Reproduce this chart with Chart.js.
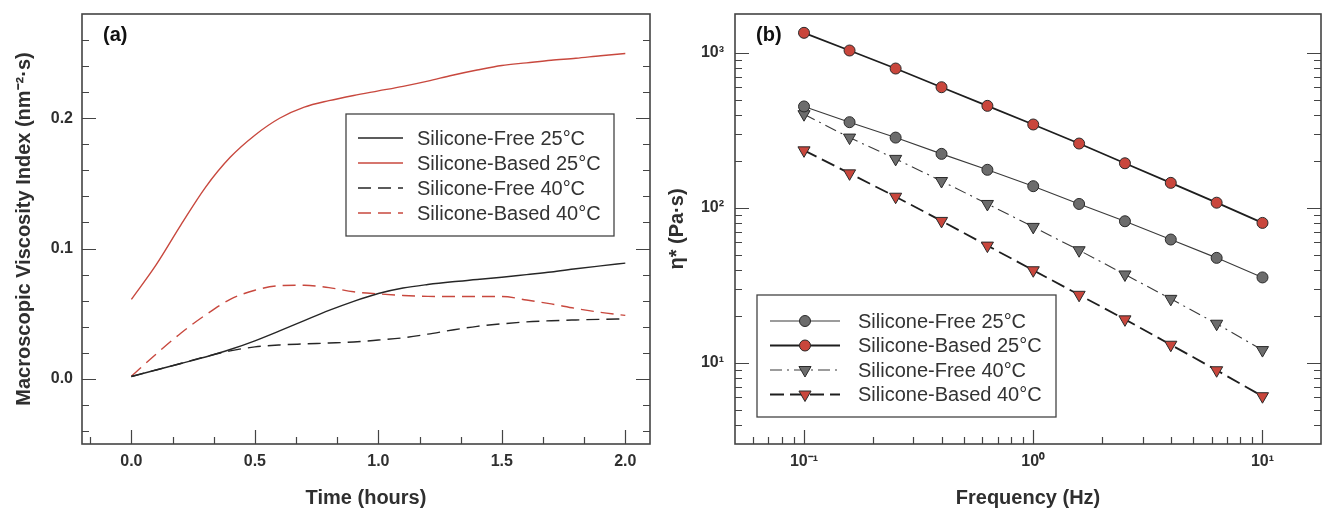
<!DOCTYPE html>
<html>
<head>
<meta charset="utf-8">
<title>Viscosity vs time and frequency</title>
<script src="https://cdn.jsdelivr.net/npm/chart.js@4.4.0/dist/chart.umd.min.js"></script>
<style>
  html, body { margin: 0; padding: 0; background: #fff; overflow: hidden; }
  #wrap { position: relative; width: 1322px; height: 508px; overflow: hidden; }
  #chartA { position: absolute; left: 0; top: 0; }
  #chartB { position: absolute; left: 660px; top: 0; }
</style>
</head>
<body>
<div id="wrap">
  <canvas id="chartA" width="660" height="508"></canvas>
  <!-- a little wider than the page: the right frame of (b) sits on the page edge -->
  <canvas id="chartB" width="669" height="508"></canvas>
</div>
<script>
// ===== (a) viscosity index over time =====
const timeHours = [0, 0.1, 0.2, 0.3, 0.4, 0.5, 0.6, 0.7, 0.8, 0.9, 1.0,
                   1.1, 1.2, 1.3, 1.4, 1.5, 1.6, 1.7, 1.8, 1.9, 2.0];
const sf25Visc = [0.0018, 0.0068, 0.0118, 0.0168, 0.0225, 0.0292, 0.0368, 0.0447, 0.0525, 0.0595, 0.0655,
                  0.0697, 0.0724, 0.0745, 0.0762, 0.078, 0.080, 0.082, 0.0845, 0.0867, 0.0888];
const sb25Visc = [0.061, 0.0875, 0.118, 0.147, 0.170, 0.187, 0.200, 0.2085, 0.2135, 0.2175, 0.221,
                  0.2245, 0.2285, 0.233, 0.237, 0.2405, 0.2425, 0.2445, 0.246, 0.248, 0.2497];
const sf40Visc = [0.0018, 0.0068, 0.0118, 0.0170, 0.0215, 0.0245, 0.026, 0.0268, 0.0275, 0.0283, 0.0298,
                  0.0315, 0.0343, 0.0375, 0.0403, 0.0422, 0.0437, 0.0446, 0.0452, 0.0457, 0.046];
const sb40Visc = [0.002, 0.019, 0.035, 0.049, 0.061, 0.068, 0.0715, 0.0718, 0.070, 0.0668, 0.0652,
                  0.064, 0.0633, 0.0632, 0.0632, 0.0632, 0.0605, 0.0575, 0.054, 0.051, 0.0487];
const timeTicks = [0, 0.5, 1.0, 1.5, 2.0];
const viscTicks = [0, 0.1, 0.2];

// ===== (b) complex viscosity over frequency =====
const freqHz = [0.1, 0.158, 0.251, 0.398, 0.631, 1, 1.585, 2.512, 3.981, 6.31, 10];
const sf25Eta = [451, 357, 284, 223, 176, 138, 106, 82, 62.5, 47.6, 35.6];
const sb25Eta = [1346, 1035, 792, 600, 455, 345, 260, 194, 145, 108, 80];
const sf40Eta = [402, 284, 207, 149, 106, 75.4, 53.3, 37.2, 25.9, 17.9, 12.1];
const sb40Eta = [235, 167, 118, 82.4, 57.1, 39.6, 27.5, 19.1, 13.1, 8.97, 6.1];
const freqTicks = [0.1, 1, 10];
const etaTicks = [10, 100, 1000];

const seriesNames = ['Silicone-Free 25°C', 'Silicone-Based 25°C', 'Silicone-Free 40°C', 'Silicone-Based 40°C'];

Chart.defaults.font.family = '"Liberation Sans", Arial, Helvetica, sans-serif';
Chart.defaults.color = '#2f2f2f';

function pairs(xs, ys) {
  return xs.map((x, i) => ({ x: x, y: ys[i] }));
}

function logMinors(min, max) {
  const out = [];
  for (let d = Math.floor(Math.log10(min)); d <= Math.ceil(Math.log10(max)); d++) {
    for (let m = 2; m <= 9; m++) {
      const v = m * Math.pow(10, d);
      if (v > min && v < max) out.push(v);
    }
  }
  return out;
}

function stepMinors(start, end, step) {
  const out = [];
  for (let v = start; v <= end + 1e-9; v += step) out.push(v);
  return out;
}

const supDigits = { '-': '⁻', '0': '⁰', '1': '¹', '2': '²', '3': '³' };
function powerLabel(v) {
  const e = String(Math.round(Math.log10(v)));
  return '10' + e.split('').map(c => supDigits[c]).join('');
}

// fixed axis sizes, no extra label padding -> plot box where the reference has it
function fixX(h) {
  return s => { s.height = h; s.paddingLeft = 0; s.paddingRight = 0; };
}
function fixY(w) {
  return s => { s.width = w; s.paddingTop = 0; s.paddingBottom = 0; };
}

// frame + inward ticks (bottom, left, right)
const frameTicks = {
  id: 'frameTicks',
  beforeDatasetsDraw(chart, args, o) {
    const { ctx, chartArea: a, scales: { x, y } } = chart;
    ctx.save();
    ctx.strokeStyle = '#444';
    ctx.lineWidth = 1.2;
    ctx.beginPath();
    const xt = (v, len) => {
      const p = Math.round(x.getPixelForValue(v)) + 0.5;
      if (p < a.left + 1 || p > a.right - 1) return;
      ctx.moveTo(p, a.bottom); ctx.lineTo(p, a.bottom - len);
    };
    const yt = (v, len) => {
      const p = Math.round(y.getPixelForValue(v)) + 0.5;
      if (p < a.top + 1 || p > a.bottom - 1) return;
      ctx.moveTo(a.left, p); ctx.lineTo(a.left + len, p);
      ctx.moveTo(a.right, p); ctx.lineTo(a.right - len, p);
    };
    o.xMajor.forEach(v => xt(v, 14));
    o.xMinor.forEach(v => xt(v, 7));
    o.yMajor.forEach(v => yt(v, 14));
    o.yMinor.forEach(v => yt(v, 7));
    ctx.stroke();
    ctx.lineWidth = 1.6;
    ctx.strokeRect(a.left, a.top, a.right - a.left, a.bottom - a.top);
    ctx.restore();
  }
};

// boxed legend placed inside the plot
const boxLegend = {
  id: 'boxLegend',
  afterDatasetsDraw(chart, args, o) {
    const ctx = chart.ctx;
    ctx.save();
    ctx.fillStyle = '#fff';
    ctx.fillRect(o.x, o.y, o.w, o.h);
    ctx.strokeStyle = '#444';
    ctx.lineWidth = 1.3;
    ctx.strokeRect(o.x, o.y, o.w, o.h);
    chart.data.datasets.forEach((ds, i) => {
      const yy = o.y + o.first + i * o.gap;
      ctx.strokeStyle = ds.borderColor;
      ctx.lineWidth = ds.borderWidth;
      ctx.setLineDash(ds.borderDash || []);
      ctx.beginPath();
      ctx.moveTo(o.x + o.lineFrom, yy);
      ctx.lineTo(o.x + o.lineTo, yy);
      ctx.stroke();
      ctx.setLineDash([]);
      if (ds.pointRadius > 0) {
        ctx.fillStyle = ds.pointBackgroundColor;
        ctx.strokeStyle = ds.pointBorderColor;
        ctx.lineWidth = ds.pointBorderWidth;
        Chart.helpers.drawPoint(ctx, {
          pointStyle: ds.pointStyle, rotation: ds.pointRotation || 0,
          radius: ds.pointRadius, borderWidth: ds.pointBorderWidth
        }, o.x + (o.lineFrom + o.lineTo) / 2, yy);
      }
      ctx.fillStyle = '#333';
      ctx.font = '20px "Liberation Sans", Arial, sans-serif';
      ctx.textBaseline = 'middle';
      ctx.textAlign = 'left';
      ctx.fillText(ds.label, o.x + o.textX, yy + 1);
    });
    ctx.restore();
  }
};

const panelTag = {
  id: 'panelTag',
  afterDraw(chart, args, o) {
    const ctx = chart.ctx;
    ctx.save();
    ctx.fillStyle = '#111';
    ctx.font = 'bold 20px "Liberation Sans", Arial, sans-serif';
    ctx.textBaseline = 'middle';
    ctx.fillText(o.text, o.x, o.y);
    ctx.restore();
  }
};

const tickFont = { size: 16, weight: 'bold' };
// tall line box instead of tick padding keeps bottom labels off the frame
const xTickFont = { size: 16, weight: 'bold', lineHeight: 2.25 };
const titleFont = { size: 20, weight: 'bold', lineHeight: 1 };

// ---- chart (a) ----
new Chart(document.getElementById('chartA'), {
  type: 'line',
  data: {
    datasets: [
      { label: seriesNames[0], data: pairs(timeHours, sf25Visc), borderColor: '#262626', borderWidth: 1.4, pointRadius: 0 },
      { label: seriesNames[1], data: pairs(timeHours, sb25Visc), borderColor: '#c8483e', borderWidth: 1.4, pointRadius: 0 },
      { label: seriesNames[2], data: pairs(timeHours, sf40Visc), borderColor: '#262626', borderWidth: 1.4, borderDash: [13, 7], pointRadius: 0 },
      { label: seriesNames[3], data: pairs(timeHours, sb40Visc), borderColor: '#c8483e', borderWidth: 1.4, borderDash: [13, 7], pointRadius: 0 }
    ]
  },
  options: {
    responsive: false,
    animation: false,
    events: [],
    layout: { padding: { top: 14, right: 10, left: 0, bottom: 0 } },
    elements: { line: { cubicInterpolationMode: 'monotone' } },
    plugins: {
      legend: { display: false },
      tooltip: { enabled: false },
      frameTicks: {
        xMajor: timeTicks, xMinor: stepMinors(-1 / 6, 2.1, 1 / 6),
        yMajor: viscTicks, yMinor: stepMinors(-0.04, 0.27, 0.02)
      },
      boxLegend: { x: 346, y: 114, w: 268, h: 122, first: 24, gap: 25, lineFrom: 12, lineTo: 57, textX: 71 },
      panelTag: { text: '(a)', x: 103, y: 35 }
    },
    scales: {
      x: {
        type: 'linear', min: -0.2, max: 2.1,
        afterFit: fixX(64),
        afterBuildTicks: s => { s.ticks = timeTicks.map(v => ({ value: v })); },
        grid: { display: false, drawTicks: false },
        border: { display: false },
        ticks: { font: xTickFont, padding: 0, autoSkip: false, maxRotation: 0, callback: v => v.toFixed(1) },
        title: { display: true, text: 'Time (hours)', font: titleFont, padding: { top: 0, bottom: 0 } }
      },
      y: {
        type: 'linear', min: -0.05, max: 0.28,
        afterFit: fixY(82),
        afterBuildTicks: s => { s.ticks = viscTicks.map(v => ({ value: v })); },
        grid: { display: false, drawTicks: false },
        border: { display: false },
        ticks: { font: tickFont, padding: 9, autoSkip: false, callback: v => v.toFixed(1) },
        title: { display: true, text: 'Macroscopic Viscosity Index (nm⁻²·s)', font: titleFont, padding: { top: 14, bottom: 0 } }
      }
    }
  },
  plugins: [frameTicks, boxLegend, panelTag]
});

// ---- chart (b) ----
const greyDot = '#6c6c6c';
const redDot = '#c9463c';
new Chart(document.getElementById('chartB'), {
  type: 'line',
  data: {
    datasets: [
      { label: seriesNames[0], data: pairs(freqHz, sf25Eta), borderColor: '#3a3a3a', borderWidth: 1.1,
        pointStyle: 'circle', pointRadius: 5.5, pointBackgroundColor: greyDot, pointBorderColor: '#2a2a2a', pointBorderWidth: 1 },
      { label: seriesNames[1], data: pairs(freqHz, sb25Eta), borderColor: '#1e1e1e', borderWidth: 1.8,
        pointStyle: 'circle', pointRadius: 5.5, pointBackgroundColor: redDot, pointBorderColor: '#2a2a2a', pointBorderWidth: 1 },
      { label: seriesNames[2], data: pairs(freqHz, sf40Eta), borderColor: '#3a3a3a', borderWidth: 1.1, borderDash: [12, 5, 2, 5],
        pointStyle: 'triangle', pointRotation: 180, pointRadius: 7, pointBackgroundColor: greyDot, pointBorderColor: '#2a2a2a', pointBorderWidth: 1 },
      { label: seriesNames[3], data: pairs(freqHz, sb40Eta), borderColor: '#1e1e1e', borderWidth: 1.8, borderDash: [14, 6],
        pointStyle: 'triangle', pointRotation: 180, pointRadius: 7, pointBackgroundColor: redDot, pointBorderColor: '#2a2a2a', pointBorderWidth: 1 }
    ]
  },
  options: {
    responsive: false,
    animation: false,
    events: [],
    layout: { padding: { top: 14, right: 0, left: 0, bottom: 0 } },
    elements: { line: { tension: 0 } },
    plugins: {
      legend: { display: false },
      tooltip: { enabled: false },
      frameTicks: {
        xMajor: freqTicks, xMinor: logMinors(0.05, 18),
        yMajor: etaTicks, yMinor: logMinors(3, 1780)
      },
      boxLegend: { x: 97, y: 295, w: 299, h: 122, first: 26, gap: 24.5, lineFrom: 13, lineTo: 83, textX: 101 },
      panelTag: { text: '(b)', x: 96, y: 35 }
    },
    scales: {
      x: {
        type: 'logarithmic', min: 0.05, max: 18,
        afterFit: fixX(64),
        afterBuildTicks: s => { s.ticks = freqTicks.map(v => ({ value: v })); },
        grid: { display: false, drawTicks: false },
        border: { display: false },
        ticks: { font: xTickFont, padding: 0, autoSkip: false, maxRotation: 0, callback: v => powerLabel(v) },
        title: { display: true, text: 'Frequency (Hz)', font: titleFont, padding: { top: 0, bottom: 0 } }
      },
      y: {
        type: 'logarithmic', min: 3, max: 1780,
        afterFit: fixY(75),
        afterBuildTicks: s => { s.ticks = etaTicks.map(v => ({ value: v })); },
        grid: { display: false, drawTicks: false },
        border: { display: false },
        ticks: { font: tickFont, padding: 11, autoSkip: false, callback: v => powerLabel(v) },
        title: { display: true, text: 'η* (Pa·s)', font: titleFont, padding: { top: 7, bottom: 0 } }
      }
    }
  },
  plugins: [frameTicks, boxLegend, panelTag]
});
</script>
</body>
</html>
